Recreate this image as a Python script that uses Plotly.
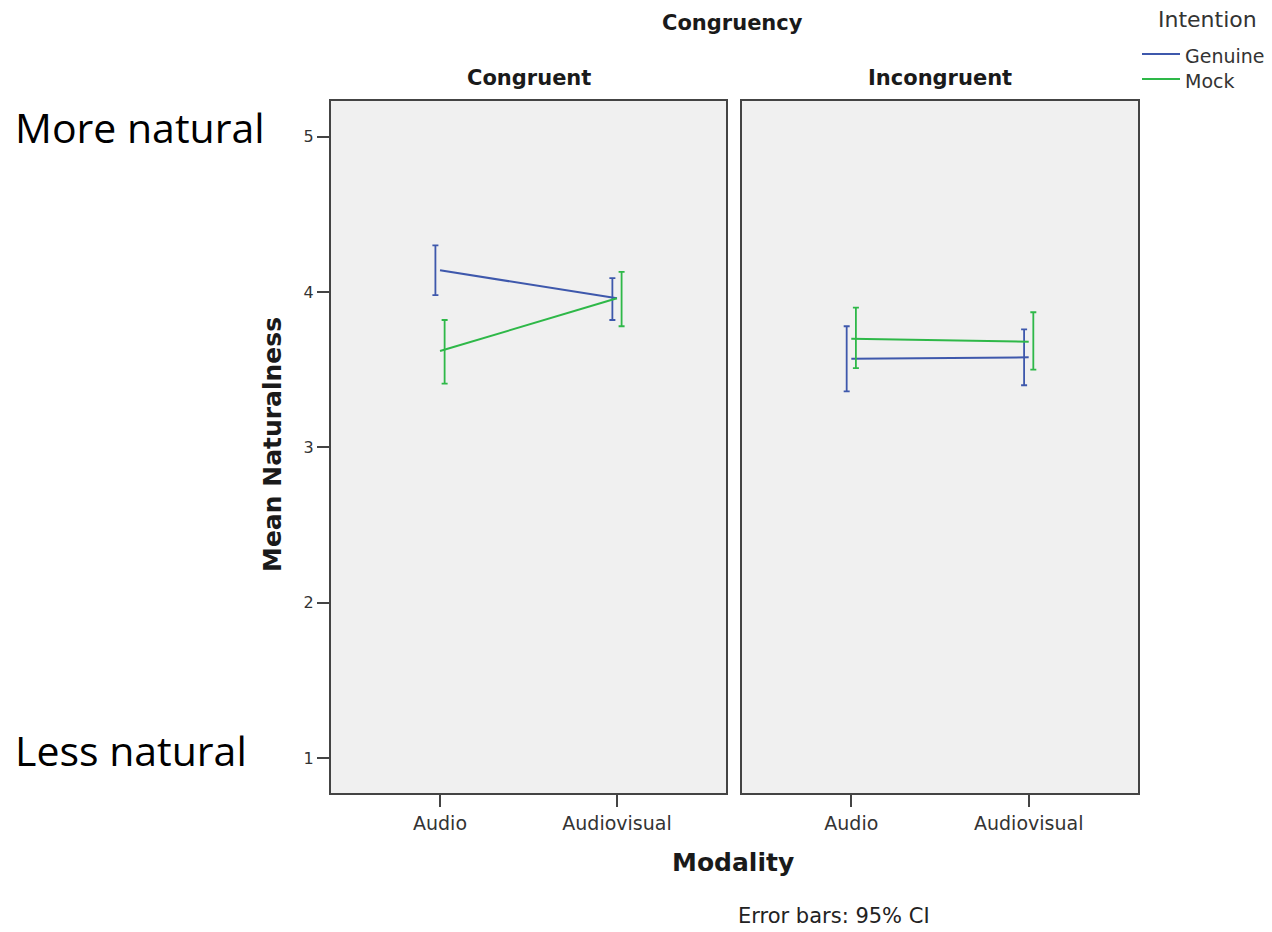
import plotly.graph_objects as go

# ---- data ----
modalities = ["Audio", "Audiovisual"]
panels = ["Congruent", "Incongruent"]
intentions = ["Genuine", "Mock"]

# means per panel (Audio, Audiovisual)
genuine_mean = {"Congruent": [4.14, 3.96], "Incongruent": [3.57, 3.58]}
genuine_lo = {"Congruent": [3.98, 3.82], "Incongruent": [3.36, 3.40]}
genuine_hi = {"Congruent": [4.30, 4.09], "Incongruent": [3.78, 3.76]}

mock_mean = {"Congruent": [3.62, 3.96], "Incongruent": [3.70, 3.68]}
mock_lo = {"Congruent": [3.41, 3.78], "Incongruent": [3.51, 3.50]}
mock_hi = {"Congruent": [3.82, 4.13], "Incongruent": [3.90, 3.87]}

y_ticks = [1, 2, 3, 4, 5]

colors = {"Genuine": "#3E58AC", "Mock": "#2EB848"}
dodge = {"Genuine": -0.026, "Mock": 0.026}

W, H = 1272, 932


def px(x):
    return x / W


def py(y):
    return 1 - y / H


fig = go.Figure()

series = {
    "Genuine": (genuine_mean, genuine_lo, genuine_hi),
    "Mock": (mock_mean, mock_lo, mock_hi),
}

for pi, panel in enumerate(panels):
    xa = "x" if pi == 0 else "x2"
    ya = "y" if pi == 0 else "y2"
    for name in intentions:
        m, lo, hi = series[name]
        xs = list(range(len(modalities)))
        fig.add_trace(go.Scatter(
            x=xs, y=m[panel], mode="lines", xaxis=xa, yaxis=ya,
            line=dict(color=colors[name], width=2), showlegend=False,
            hoverinfo="skip"))
        fig.add_trace(go.Scatter(
            x=[i + dodge[name] for i in xs], y=m[panel], mode="markers",
            xaxis=xa, yaxis=ya, marker=dict(size=1, color="rgba(0,0,0,0)"),
            error_y=dict(type="data", symmetric=False,
                         array=[h - mm for h, mm in zip(hi[panel], m[panel])],
                         arrayminus=[mm - l for mm, l in zip(m[panel], lo[panel])],
                         color=colors[name], thickness=1.8, width=3),
            showlegend=False, hoverinfo="skip"))

xrange_ = [-0.616, 1.616]
yrange_ = [0.775, 5.23]
axcol = "#444444"

common_x = dict(range=xrange_, tickvals=[0, 1], ticktext=modalities,
                showgrid=False, zeroline=False, showline=True, mirror=True,
                linecolor=axcol, linewidth=2, ticks="outside", ticklen=12,
                tickcolor=axcol, tickwidth=2,
                tickfont=dict(family="DejaVu Sans", size=19, color="#333333"),
                fixedrange=True)
common_y = dict(range=yrange_, showgrid=False, zeroline=False, showline=True,
                mirror=True, linecolor=axcol, linewidth=2, fixedrange=True)

fig.update_layout(
    width=W, height=H,
    margin=dict(l=0, r=0, t=0, b=0, autoexpand=False),
    paper_bgcolor="white", plot_bgcolor="#F0F0F0",
    xaxis=dict(domain=[px(331), px(726)], anchor="y", **common_x),
    xaxis2=dict(domain=[px(742), px(1138)], anchor="y2", **common_x),
    yaxis=dict(domain=[py(793), py(101)], anchor="x", tickvals=y_ticks,
               ticks="outside", ticklen=12, tickcolor=axcol, tickwidth=2,
               tickfont=dict(family="DejaVu Sans", size=16, color="#333333"),
               **common_y),
    yaxis2=dict(domain=[py(793), py(101)], anchor="x2", showticklabels=False,
                ticks="", **common_y),
    showlegend=False,
)

title_col = "#1a1a1a"
ann = []


def add(text, x, y, size, family="DejaVu Sans", color=title_col, xanchor="center", angle=0):
    ann.append(dict(text=text, x=px(x), y=py(y), xref="paper", yref="paper",
                    showarrow=False, font=dict(family=family, size=size, color=color),
                    xanchor=xanchor, yanchor="middle", textangle=angle))


add("<b>Congruency</b>", 732, 23, 21)
add("<b>Congruent</b>", 529, 78, 21)
add("<b>Incongruent</b>", 940, 78, 21)
add("<b>Modality</b>", 733, 862, 25)
add("<b>Mean Naturalness</b>", 273, 445, 25, angle=-90)
add("Error bars: 95% CI", 834, 916, 21, color="#222222")
add("More natural", 13, 127, 41, family="Open Sans", color="black", xanchor="left")
add("Less natural", 13, 750, 41, family="Open Sans", color="black", xanchor="left")
add("Intention", 1207, 20, 22, color="#333333")

shapes = []
for k, name in enumerate(intentions):
    yl = 54 + 25 * k
    shapes.append(dict(type="line", xref="paper", yref="paper", x0=px(1142), x1=px(1180),
                       y0=py(yl), y1=py(yl), line=dict(color=colors[name], width=2)))
    add(name, 1183, yl + 2, 19, color="#333333", xanchor="left")

fig.update_layout(annotations=ann, shapes=shapes)
fig.write_html("out.html",
               config={"displayModeBar": False},
               post_script="document.body.style.margin='0';document.body.style.overflow='hidden';")
